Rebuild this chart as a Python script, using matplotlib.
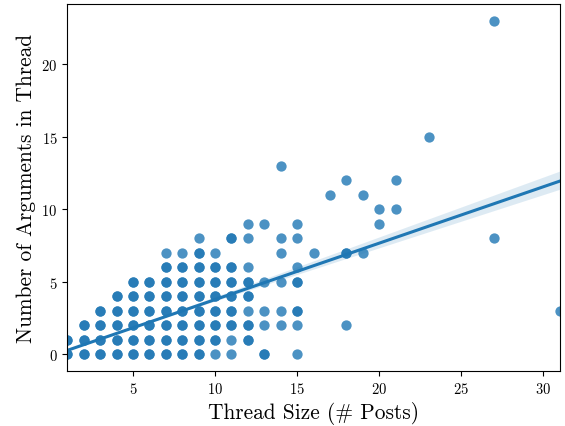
import matplotlib
matplotlib.use('Agg')
from matplotlib import pyplot as plt
import numpy as np
import pandas as pd
import seaborn as sns

# (thread size, number of arguments, how many threads share that point)
thread_size = [1, 1,
               2, 2, 2,
               3, 3, 3, 3,
               4, 4, 4, 4, 4,
               5, 5, 5, 5, 5, 5,
               6, 6, 6, 6, 6, 6,
               7, 7, 7, 7, 7, 7, 7, 7,
               8, 8, 8, 8, 8, 8, 8, 8,
               9, 9, 9, 9, 9, 9, 9, 9, 9,
               10, 10, 10, 10, 10, 10, 10, 10,
               11, 11, 11, 11, 11, 11, 11, 11,
               12, 12, 12, 12, 12, 12, 12, 12,
               13, 13, 13, 13, 13,
               14, 14, 14, 14, 14, 14,
               15, 15, 15, 15, 15, 15, 15,
               16, 17, 18, 18, 18, 19, 19, 20, 20, 21, 21, 23, 27, 27, 31]
num_arguments = [0, 1,
                 0, 1, 2,
                 0, 1, 2, 3,
                 0, 1, 2, 3, 4,
                 0, 1, 2, 3, 4, 5,
                 0, 1, 2, 3, 4, 5,
                 0, 1, 2, 3, 4, 5, 6, 7,
                 0, 1, 2, 3, 4, 5, 6, 7,
                 0, 1, 2, 3, 4, 5, 6, 7, 8,
                 0, 1, 2, 3, 4, 5, 6, 7,
                 0, 1, 2, 3, 4, 5, 6, 8,
                 1, 2, 3, 4, 5, 6, 8, 9,
                 0, 2, 3, 5, 9,
                 2, 3, 5, 7, 8, 13,
                 0, 2, 3, 5, 6, 8, 9,
                 7, 11, 2, 7, 12, 7, 11, 9, 10, 10, 12, 15, 8, 23, 3]
thread_count = [490, 180,
                340, 180, 120,
                250, 180, 120, 60,
                180, 150, 120, 90, 60,
                150, 132, 120, 90, 60, 48,
                120, 120, 108, 96, 84, 72,
                80, 80, 84, 75, 66, 54, 42, 1,
                42, 45, 51, 54, 51, 45, 36, 1,
                27, 33, 36, 36, 36, 33, 27, 21, 1,
                1, 12, 18, 24, 24, 24, 18, 1,
                1, 1, 18, 18, 18, 18, 12, 12,
                6, 6, 1, 12, 18, 1, 1, 1,
                2, 1, 1, 1, 1,
                1, 1, 1, 1, 1, 1,
                1, 1, 4, 4, 1, 1, 1,
                1, 1, 1, 3, 1, 1, 1, 1, 1, 1, 1, 1, 1, 1, 1]

df = pd.DataFrame({'size': np.repeat(thread_size, thread_count),
                   'args': np.repeat(num_arguments, thread_count)})

plt.rcParams['font.family'] = 'serif'
plt.rcParams['font.serif'] = ['cmr10']
plt.rcParams['mathtext.fontset'] = 'cm'
plt.rcParams['axes.formatter.use_mathtext'] = True
plt.rcParams['axes.unicode_minus'] = False

fig, ax = plt.subplots(figsize=(5.65, 4.27), dpi=100)
# regression line + bootstrap band on all threads
sns.regplot(x='size', y='args', data=df, ax=ax, seed=0, scatter=False,
            line_kws={'lw': 2.2})
# each distinct point once, shared points drawn again so they look darker
xs = np.array(thread_size)
ys = np.array(num_arguments)
cnt = np.array(thread_count)
ax.scatter(xs, ys, s=55, color='C0', alpha=0.8, linewidths=0)
ax.scatter(xs[cnt > 1], ys[cnt > 1], s=55, color='C0', alpha=0.8, linewidths=0)
ax.set_xlim(1, 31)
ax.set_ylim(-1.15, 24.15)
ax.set_xlabel('Thread Size (# Posts)', fontsize=15.4)
ax.set_ylabel('Number of Arguments in Thread', fontsize=15.4)
ax.tick_params(labelsize=10.5)
fig.subplots_adjust(left=0.119, right=0.991, top=0.988, bottom=0.129)
fig.savefig('out.png', dpi=100)
